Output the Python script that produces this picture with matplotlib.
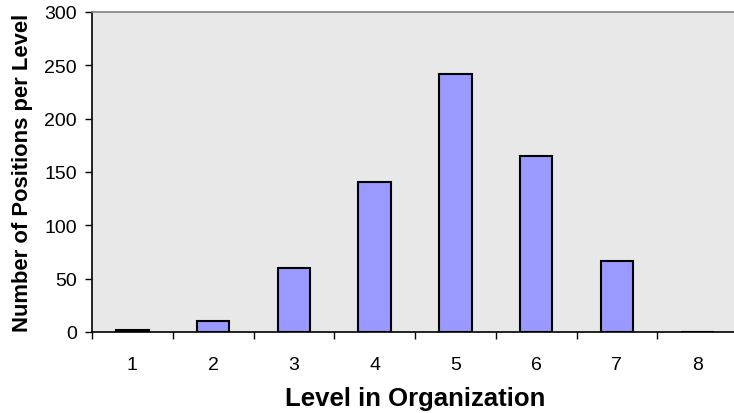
import matplotlib
matplotlib.use("Agg")
import matplotlib.pyplot as plt
from matplotlib.ticker import FixedLocator, NullFormatter

plt.rcParams['font.family'] = ['Liberation Sans', 'DejaVu Sans']

levels = ["1", "2", "3", "4", "5", "6", "7", "8"]
positions = [2, 10, 60, 141, 242, 165, 67, 0]

W, H = 734, 414
fig = plt.figure(figsize=(W / 100, H / 100), dpi=100)
ax = fig.add_axes([92 / W, 81 / H, (738 - 92) / W, 320 / H])
ax.set_facecolor("#E8E8E8")

x = list(range(1, len(levels) + 1))
ax.bar(x, positions, width=0.4, color="#9999FF", edgecolor="black",
       linewidth=1.5, zorder=3)

ax.set_xlim(0.5, len(levels) + 0.5)
ax.set_ylim(0, 300)
ax.set_yticks(range(0, 301, 50))

# category labels centred, tick marks between categories
ax.set_xticks(x)
ax.set_xticklabels(levels)
ax.tick_params(axis="x", which="major", length=0, pad=17, labelsize=14)
ax.xaxis.set_minor_locator(FixedLocator([i + 0.5 for i in range(0, len(levels) + 1)]))
ax.xaxis.set_minor_formatter(NullFormatter())
ax.tick_params(axis="x", which="minor", length=5, width=1, direction="out")
ax.tick_params(axis="y", length=5, width=1, direction="out", pad=6, labelsize=14)

for side in ("left", "bottom"):
    ax.spines[side].set_color("black")
    ax.spines[side].set_linewidth(1.2)
ax.spines["top"].set_color("#808080")
ax.spines["top"].set_linewidth(1.2)
ax.spines["right"].set_visible(False)

ax.set_xlabel("Level in Organization", fontsize=18.5, fontweight="bold", labelpad=10)
ax.set_ylabel("Number of Positions per Level", fontsize=15.8, fontweight="bold", labelpad=8)

fig.savefig("out.png", dpi=100)
